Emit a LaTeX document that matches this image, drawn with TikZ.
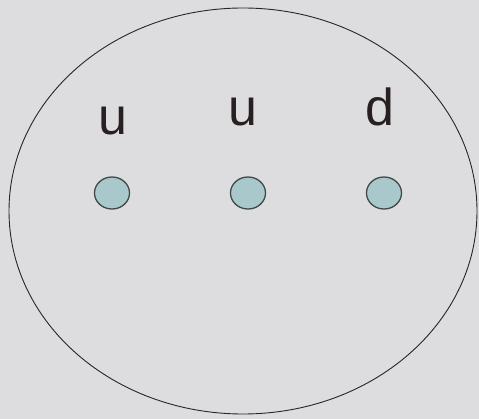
\documentclass[tikz,border=0pt]{standalone}
\usepackage{fontspec}
\setmainfont{Liberation Sans}
\usepackage{tikz}
\usetikzlibrary{shapes.geometric}
\definecolor{PaleGray}{RGB}{221,221,223}
\definecolor{QuarkTeal}{RGB}{168,200,204}
\definecolor{RimGray}{RGB}{64,72,72}
\definecolor{InkDark}{RGB}{40,32,32}

\begin{document}
\begin{tikzpicture}[x=1pt,y=-1pt,
  quark/.style={draw=RimGray,line width=1.3pt,fill=QuarkTeal,ellipse,minimum width=35pt,minimum height=32pt,inner sep=0pt},
  flavour/.style={anchor=base,text=InkDark,font=\fontsize{52}{52}\selectfont,inner sep=0pt}]
\fill[PaleGray] (0,0) rectangle (479,419);
\useasboundingbox (0,0) rectangle (479,419);
\draw[line width=0.9pt,draw=black!85] (243,211) ellipse [x radius=234,y radius=203];
\node[quark] (q1) at (112,193) {};
\node[quark] (q2) at (248,193) {};
\node[quark] (q3) at (384,193) {};
\node[flavour] (f1) at (113,135) {u};
\node[flavour] (f2) at (243,126) {u};
\node[flavour] (f3) at (380,126) {d};
\end{tikzpicture}
\end{document}
